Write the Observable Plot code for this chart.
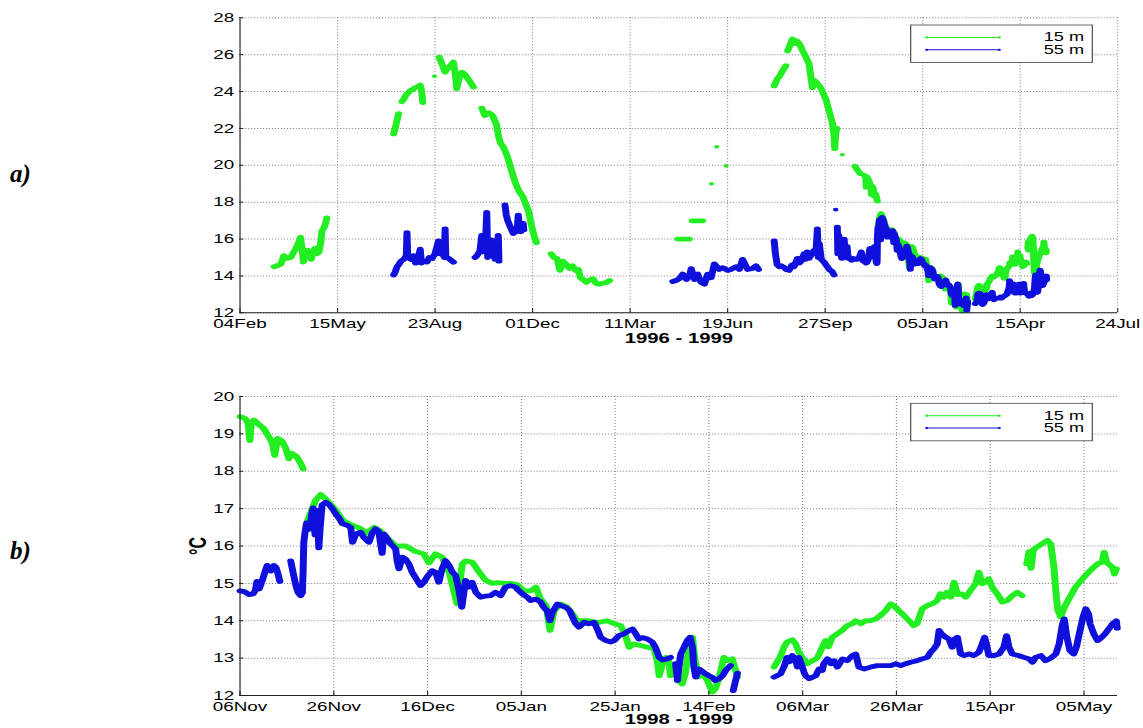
<!DOCTYPE html>
<html><head><meta charset="utf-8">
<script src="https://cdn.jsdelivr.net/npm/d3@7"></script>
<script src="https://cdn.jsdelivr.net/npm/@observablehq/plot@0.6"></script>
<style>
html,body{margin:0;padding:0;background:#fff}
body{width:1143px;height:728px;overflow:hidden;position:relative}
.panel{position:absolute;left:0}
.tag{position:absolute;font-family:"Liberation Serif","Times New Roman",serif;font-weight:bold;font-style:italic;font-size:25px;line-height:1;color:#000}
</style></head><body>
<div id="top" class="panel" style="top:0"></div>
<div id="bot" class="panel" style="top:360px"></div>
<div class="tag" style="left:10px;top:161px">a)</div>
<div class="tag" style="left:10px;top:538px">b)</div>
<script>
// ---------- labels / ticks ----------
const topXTicks = [0,100,200,300,400,500,600,700,800,900]; // days since 04 Feb 1997
const topXLabels = ["04Feb","15May","23Aug","01Dec","11Mar","19Jun","27Sep","05Jan","15Apr","24Jul"];
const topYTicks = [12,14,16,18,20,22,24,26,28];
const botXTicks = [0,20,40,60,80,100,120,140,160,180];     // days since 06 Nov 1998
const botXLabels = ["06Nov","26Nov","16Dec","05Jan","25Jan","14Feb","06Mar","26Mar","15Apr","05May"];
const botYTicks = [12,13,14,15,16,17,18,19,20];
const legendLabels = ["15 m","55 m"];
const topTitle = "1996 - 1999";
const botTitle = "1998 - 1999";
const yUnit = "°C";
const topStart = Date.UTC(1997,1,4);
const botStart = Date.UTC(1998,10,6);
const botEndDay = 187.2;

// ---------- data: panel a) only (days since 04 Feb 1997, °C) ----------
const topOnly15 = [
 [[35,14.5],[38,14.55],[42,14.65],[45,15.1],[48,14.95],[52,15.0],[55,15.3],[57,15.45],[60,15.8],[62,16.1],[64,15.3],[65,14.75],[67,15.1],[69,15.4],[71,15.1],[73,14.9],[75,15.3],[77,15.5],[79,15.2],[81,15.3],[83,15.9],[84,16.45],[86,16.6],[88,16.9],[89,17.15]],
 [[157.5,21.7],[160,22.2],[162.6,22.8]],
 [[166,23.45],[168,23.6],[170,23.8],[172,23.9],[174.5,24.05],[177,24.1],[179,24.2],[182,24.25],[184.7,24.35],[186,24.1],[187.5,23.4]],
 [[204.2,25.86],[207,25.5],[210.3,25.05],[212,25.2],[214,25.3],[216.5,25.45],[218.8,25.6],[220.5,25.0],[222.3,24.15],[224,24.6],[225.5,24.85],[227.4,25.05],[231,24.9],[235,24.6],[239.3,24.25]],
 [[248,23.1],[251,22.7],[255,22.85],[259,22.7],[263,22.2],[265,21.6],[267,21.2],[270,21.0],[274,20.5],[278,19.8],[282,19.1],[286,18.6],[290,18.3],[293,17.9],[296,17.5],[299,16.7],[302,16.1],[304,15.8]],
 [[319,15.2],[322,15.0],[325,14.95],[328,14.3],[331,14.8],[334,14.65],[338,14.4],[341,14.55],[344,14.3],[347,14.35],[349,13.9],[352,13.8],[355,13.65],[359,13.8],[362,13.85],[365,13.6],[368,13.55],[372,13.6],[376,13.65],[379,13.75]],
 [[448.9,16.0],[460.8,16.0]],
 [[463.6,16.99],[474.4,16.99]],
 [[547.7,24.3],[551,24.7],[553,24.8],[556,25.1],[559.7,25.4]],
 [[561.5,26.2],[563,26.4],[566.5,26.85],[569,26.6],[571,26.75],[574,26.55],[577,26.2],[580,25.9],[583.5,25.5],[586.9,24.2],[588.5,24.6],[591,24.5],[595.5,24.2],[598,23.9],[600.6,23.6],[604,22.95],[607.4,22.3],[609,21.7],[609.8,20.9],[610.8,21.7],[612,22.0]],
 [[630.6,19.95],[633,19.75],[636,19.55]]
];
const topOnly15Dots = [[199.4,24.83],[483.3,19.0],[488.8,21.0],[498.4,19.97],[617.6,20.57]];

const topOnly55 = [
 [[157.5,14.05],[159,14.2],[161,14.5],[162.6,14.6],[165,14.8],[168,14.9],[170.5,15.1],[171.2,16.35],[172,15.0],[175,14.9],[178,15.1],[180,14.7],[182,14.8],[184.8,15.45],[186,14.7],[189,14.8],[191.6,14.75],[194,15.0],[197,14.95],[200,15.2],[203.5,15.9],[205,15.2],[207,15.3],[209.5,15.0],[210.3,16.55],[211,15.0],[214,14.95],[218.8,14.75]],
 [[241,15.0],[243,15.1],[246,15.35],[247.9,16.2],[249.5,15.3],[251.5,15.6],[253,17.45],[254,15.0],[256,15.3],[258,15.95],[260,15.2],[261.5,14.9],[263.5,15.5],[264.8,16.2],[265.5,14.8]],
 [[271.7,17.85],[273,17.3],[274.5,17.0],[276.8,16.7],[278.5,16.5],[280.2,16.3],[282,16.5],[284,16.4],[285.3,17.3],[286.5,16.6],[288,16.4],[290.4,16.85],[291,16.5]],
 [[443.8,13.7],[447,13.75],[450.6,13.85],[454,14.1],[457.8,13.8],[461,14.0],[462.6,14.4],[466,13.8],[469.3,14.1],[472.8,13.65],[476.2,13.55],[479.6,14.1],[483,13.9],[486.4,14.65],[491.5,14.35],[494.9,14.45],[500,14.3],[503.5,14.35],[508.6,14.5],[512,14.35],[515.3,14.9],[520.5,14.35],[525.6,14.4],[529.1,14.55],[531.7,14.35]],
 [[547.7,15.9],[549,15.2],[550.8,14.6],[553,14.5],[555,14.55],[558,14.45],[560,14.35],[563,14.3],[566,14.6],[568,14.5],[571.6,14.95],[573.5,14.7],[575.4,14.8],[578.4,15.2],[580,14.9],[581.5,15.3],[583.5,14.95],[585.3,15.1],[588.7,15.4],[590.5,15.2],[592,16.55],[593,15.0],[594,15.75],[596,14.9],[598.9,14.75],[602.2,14.5],[605,14.3],[607,14.25],[609.1,14.05]],
 [[612.5,16.65],[613,15.2],[614,16.2],[615.5,15.3],[617,14.95],[618.5,15.0],[619.5,16.0],[620.5,15.1],[622.5,15.6],[623.5,14.95],[625,15.0],[627,14.85],[629,14.95],[631,14.9],[633,14.9],[635,15.0],[637,15.3],[639,14.8]]
];
const topOnly55Dots = [[610.8,17.6]];

// ---------- data: panel b) (days since 06 Nov 1998, °C) ----------
const bot15 = [
 [[0,19.46],[1,19.42],[1.7,19.3],[2.1,18.82],[2.4,19.3],[3,19.37],[4,19.25],[5,19.15],[6,18.95],[6.9,18.75],[7.4,18.42],[8,18.88],[9,18.8],[9.8,18.6],[10.4,18.33],[11,18.48],[12,18.4],[12.9,18.22],[13.5,18.06]],
 [[14.4,16.68],[15.1,16.9],[16.1,17.22],[17.2,17.38],[18.3,17.26],[19.3,17.12],[20.5,16.95],[21.8,16.7],[22.9,16.62],[24,16.55],[25.5,16.48],[27,16.35],[28.6,16.5],[30,16.4],[31.5,16.2],[33.2,16.0],[35.3,16.0],[37.5,15.85],[39.2,15.79],[40.3,15.55],[41.7,15.79],[43.1,15.7],[44.6,15.3],[45.6,14.8],[46.3,14.45],[47.4,15.52],[48.1,15.6],[49.5,15.57],[51,15.3],[52.4,15.08],[53.8,15.0],[55,15.02],[56.6,15.0],[57.7,15.0],[59.1,14.97],[60.6,14.8],[62,14.8],[63.1,14.9],[64.1,14.58],[65.3,14.4],[66.1,13.74],[67,14.27],[68.4,14.45],[69.8,14.36],[70.8,14.2],[71.9,14.0],[73.3,14.0],[74.4,14.0],[76.2,13.95],[78.3,14.0],[79.8,13.92],[81.2,13.87],[82.2,13.6],[83,13.29],[84,13.38],[85.4,13.34],[86.9,13.29],[88.3,13.25],[89,12.93],[89.4,12.53],[90.1,12.85],[90.8,13.02],[91.5,12.9],[91.8,12.53],[92.9,12.58],[93.6,12.4],[94.3,12.31],[95,12.6],[95.8,13.38],[96.5,13.56],[97.1,12.9],[97.8,12.5],[98.5,12.62],[99.7,12.4],[100.7,12.09],[101.4,12.18],[102.2,12.49],[103.2,13.02],[103.9,12.93],[105,12.98],[106.1,12.49]],
 [[113.9,12.76],[115.3,13.05],[116,13.29],[116.7,13.43],[117.8,13.49],[118.5,13.38],[119.2,13.16],[119.9,13.02],[121,12.85],[122.1,12.93],[123.1,13.0],[124.2,13.29],[124.9,13.47],[125.5,13.3],[126.3,13.56],[127.4,13.65],[128.5,13.75],[129.5,13.87],[130.6,13.92],[131.3,14.0],[132.4,13.92],[133.4,14.0],[134.5,14.0],[135.6,14.05],[136.6,14.14],[137.7,14.27],[138.8,14.45],[139.5,14.4],[140.5,14.27],[141.6,14.14],[142.7,14.0],[143.7,13.87],[144.4,13.92],[145.5,14.32],[146.6,14.41],[147.6,14.45],[148.7,14.54],[149.4,14.72],[150.1,14.63],[150.8,14.76],[151.6,14.63],[152.3,15.03],[153,14.7],[154,14.72],[154.8,14.63],[155.8,14.81],[156.9,14.99],[157.6,15.3],[158.3,14.99],[159,15.03],[159.7,15.12],[160.4,14.9],[161.5,14.72],[162.6,14.5],[163.6,14.54],[164.7,14.67],[165.8,14.76],[166.8,14.67]],
 [[167.8,15.52],[168.3,15.85],[168.7,15.4],[169.2,15.9],[170,15.97],[171.1,16.06],[172.2,16.15],[172.9,16.06],[173.6,15.43],[174,14.8],[174.4,14.3],[175,14.1],[175.8,14.36],[177,14.63],[178.2,14.9],[179.4,15.08],[180.6,15.25],[181.7,15.39],[182.9,15.52],[183.9,15.57],[184.3,15.83],[184.9,15.55],[186.1,15.43],[186.5,15.25],[186.9,15.39]]
];
const bot55 = [
 [[0,14.8],[0.9,14.78],[1.9,14.7],[2.8,14.72],[3.3,14.82],[3.6,15.05],[4.1,14.85],[4.8,15.1],[5.3,15.3],[5.8,15.48],[6.3,15.38],[6.6,15.33],[7.2,15.48],[7.7,15.42],[8,15.3],[8.5,15.05]],
 [[10.8,15.6],[11.3,15.3],[11.9,14.95],[12.4,14.75],[12.9,14.67],[13.3,14.75],[13.45,15.3],[13.6,16.1],[13.9,16.4],[14.2,16.62],[14.6,16.55],[14.9,16.45],[15.3,16.86],[15.6,17.02],[16.0,16.3],[16.4,16.95],[16.8,15.95],[17.1,16.5],[17.5,17.1],[18.3,17.17],[18.9,17.12],[19.7,17.0],[20.4,16.86],[21.1,16.75],[21.8,16.6],[22.9,16.55],[23.6,16.5],[24,16.1],[24.7,16.32],[25.7,16.37],[26.4,16.23],[27.5,16.1],[28.2,16.35],[28.9,16.46],[29.6,16.38],[30.3,15.8],[30.7,16.32],[31.4,16.2],[32.1,16.06],[33.2,15.92],[33.5,15.61],[33.9,15.39],[34.6,15.7],[35.3,15.65],[36,15.52],[36.7,15.3],[37.8,15.08],[38.5,14.94],[39.2,15.03],[39.9,15.17],[41,15.34],[41.7,15.3],[42.4,15.03],[43.1,15.39],[43.8,15.61],[44.6,15.48],[45.3,15.3],[46,15.21],[46.7,14.81],[47.3,14.36],[47.8,14.81],[48.1,15.08],[48.8,14.9],[49.5,15.03],[50.3,14.76],[51.3,14.63],[52.4,14.66],[53.4,14.67],[54.5,14.76],[55.6,14.67],[56.6,14.9],[57.7,14.94],[58.8,14.9],[59.1,14.85],[60.2,14.72],[61.3,14.63],[62,14.54],[63.1,14.58],[64.1,14.5],[64.8,14.36],[65.5,14.27],[66.1,14.0],[66.6,14.22],[67.7,14.45],[68.6,14.4],[69.5,14.36],[70.3,14.27],[70.9,14.1],[71.6,13.92],[72.3,13.83],[73.4,13.96],[74.4,13.92],[75.5,13.96],[76.2,13.78],[76.9,13.56],[78,13.47],[79.1,13.43],[79.8,13.47],[80.8,13.6],[81.9,13.65],[83,13.74],[83.7,13.78],[84.4,13.65],[85.1,13.51],[85.8,13.55],[86.9,13.51],[87.9,13.43],[88.6,13.29],[89.4,13.02],[90.1,12.95],[91.1,12.98],[91.8,13.02]],
 [[92.9,12.85],[93.3,12.4],[93.6,12.75],[94,13.11],[94.7,13.29],[95.4,13.47],[96,13.56],[96.5,13.29],[96.8,12.76],[97.2,12.49],[97.9,12.71],[98.6,12.65],[99.3,12.58],[100,12.53],[100.7,12.49],[101.4,12.4],[102.2,12.45],[102.9,12.53],[103.6,12.67],[104.3,12.76],[104.6,12.8]],
 [[105.2,12.13],[105.6,12.35],[106.1,12.6]],
 [[113.9,12.49],[115.3,12.58],[116,12.76],[116.7,13.02],[117.2,12.9],[117.8,13.07],[118.5,12.95],[118.9,12.76],[119.2,13.02],[119.7,12.85],[120.3,12.62],[120.6,12.53],[121.4,12.45],[122.1,12.49],[122.8,12.53],[123.5,12.71],[124.2,12.67],[124.5,12.85],[125.3,12.98],[126,12.85],[126.7,12.93],[127.4,12.76],[128.5,12.98],[129.5,12.93],[130.6,13.07],[131.3,13.11],[132,12.76],[133.1,12.71],[134.5,12.76],[135.9,12.8],[137.3,12.8],[138.8,12.8],[139.8,12.85],[140.9,12.8],[142,12.85],[143,12.89],[144.4,12.93],[145.5,12.98],[146.6,13.02],[147.3,13.16],[148,13.25],[148.7,13.38],[149.1,13.74],[149.6,13.65],[150.5,13.56],[151.2,13.51],[151.9,13.29],[152.3,13.5],[153,13.56],[153.7,13.11],[154.4,13.07],[155.5,13.11],[156.5,13.07],[157.6,13.16],[158.3,13.38],[158.8,13.56],[159.2,13.38],[159.7,13.07],[160.8,13.07],[161.9,13.11],[162.9,13.29],[163.5,13.6],[164,13.3],[164.7,13.11],[166,13.07],[167.2,13.02],[168.3,12.98],[169,12.89],[169.7,13.02],[170.8,13.07],[171.8,12.93],[172.9,13.0],[174,13.11],[174.7,13.38],[175.4,13.9],[175.8,14.05],[176.3,13.6],[177,13.2],[177.8,13.11],[178.4,13.3],[179,13.65],[179.8,14.1],[180.4,14.32],[181,14.18],[181.3,13.92],[182.1,13.65],[182.9,13.47],[183.7,13.55],[184.5,13.65],[185.3,13.78],[186.1,13.92],[186.9,14.0],[187.1,13.8]]
];

// ---------- layout ----------
const S = 1.45;                 // the original figure is stretched horizontally
const X0 = 239.3, X1 = 1117;    // page x of axis start / end
const W = 1143 / S;
const GREEN = "#22ee22", BLUE = "#1010dc", AXIS = "#222";

const toRows = (segs, shift, tag) =>
  segs.flatMap((seg, k) => seg.map(([d, t]) => ({day: d + shift, t, seg: tag + k})));
const shift = (botStart - topStart) / 864e5;

function panel(o) {
  const lab = new Map(o.ticksX.map((t, i) => [t, o.labelsX[i]]));
  const pxX = (X1 - X0) / (o.domX[1] - o.domX[0]);
  const pxY = (o.yBot - o.yTop) / (o.domY[1] - o.domY[0]);
  const tX = 4 / pxX, tY = 4 / pxY;
  const marks = [
    Plot.gridX(o.ticksX, {stroke: "#7c7c7c", strokeOpacity: 1, strokeWidth: 0.7, strokeDasharray: "1,2"}),
    Plot.gridY(o.ticksY, {stroke: "#7c7c7c", strokeOpacity: 1, strokeWidth: 1, strokeDasharray: "0.7,1.35"}),
    Plot.line(o.rows15, {x: "day", y: "t", z: "seg", stroke: GREEN, strokeWidth: 4.8, strokeLinecap: "round", strokeLinejoin: "round"}),
    Plot.dot(o.dots15, {x: d => d[0], y: d => d[1], r: 1.8, fill: GREEN, strokeWidth: 0}),
    Plot.line(o.rows55, {x: "day", y: "t", z: "seg", stroke: BLUE, strokeWidth: 4.8, strokeLinecap: "round", strokeLinejoin: "round"}),
    Plot.dot(o.dots55, {x: d => d[0], y: d => d[1], r: 1.9, fill: BLUE, strokeWidth: 0}),
    Plot.ruleX([o.domX[0]], {stroke: AXIS, strokeWidth: 0.75}),
    Plot.ruleY([o.domY[0]], {stroke: AXIS, strokeWidth: 1}),
    Plot.ruleX(o.ticksX, {x: d => d, y1: o.domY[0], y2: o.domY[0] + tY, stroke: AXIS, strokeWidth: 0.75}),
    Plot.ruleY(o.ticksY, {y: d => d, x1: o.domX[0], x2: o.domX[0] + tX, stroke: AXIS, strokeWidth: 1}),
    Plot.axisX(o.ticksX, {tickSize: 0, tickPadding: 6, tickFormat: d => lab.get(d), label: null}),
    Plot.axisY(o.ticksY, {tickSize: 0, tickPadding: 4, label: null}),
    Plot.text([o.title], {text: d => d, frameAnchor: "bottom", lineAnchor: "top", dy: o.titleDy, fontWeight: "bold", fontSize: 14, fill: "#000"})
  ];
  if (o.unit) marks.push(Plot.text([o.unit], {text: d => d, frameAnchor: "left", textAnchor: "middle", lineAnchor: "middle", rotate: -90, dx: (197.5 - X0) / S, fontSize: 16, fontWeight: "bold", fill: "#000"}));
  const svg = Plot.plot({
    width: W, height: o.h,
    marginLeft: X0 / S, marginRight: W - X1 / S, marginTop: o.yTop, marginBottom: o.h - o.yBot,
    x: {domain: o.domX, range: [X0 / S, X1 / S]},
    y: {domain: o.domY, range: [o.yBot, o.yTop]},
    style: {fontFamily: "'Liberation Sans', Arial, sans-serif", fontSize: "13px", color: "#000", background: "transparent", overflow: "visible"},
    marks
  });
  // legend
  const g = d3.select(svg).append("g");
  const T = o.legendTop, L = 910.7 / S, R = 1092.3 / S;
  g.append("rect").attr("x", L).attr("y", T).attr("width", R - L).attr("height", 37.5)
    .attr("fill", "#fff").attr("stroke", "#444").attr("stroke-width", 0.8);
  [GREEN, BLUE].forEach((c, i) => {
    const y = T + 12.4 + i * 12.4;
    g.append("line").attr("x1", 926.7 / S).attr("x2", 999.3 / S).attr("y1", y).attr("y2", y)
      .attr("stroke", c).attr("stroke-width", 1);
    [926.7, 999.3].forEach(x => g.append("circle").attr("cx", x / S).attr("cy", y).attr("r", 1.1).attr("fill", c));
    g.append("text").attr("x", 1084 / S).attr("y", T + 16.4 + i * 12.6).attr("text-anchor", "end")
      .attr("fill", "#000").style("font-size", "12.5px").text(legendLabels[i]);
  });
  svg.setAttribute("width", 1143);
  svg.setAttribute("height", o.h);
  svg.setAttribute("preserveAspectRatio", "none");
  svg.style.width = "1143px"; svg.style.height = o.h + "px"; svg.style.maxWidth = "none"; svg.style.display = "block";
  document.getElementById(o.el).appendChild(svg);
}

panel({
  el: "top", h: 355, yTop: 17.3, yBot: 312.3,
  domX: [0, 900], ticksX: topXTicks, labelsX: topXLabels, domY: [12, 28], ticksY: topYTicks,
  rows15: [...toRows(topOnly15, 0, "a"), ...toRows(bot15, shift, "b")],
  rows55: [...toRows(topOnly55, 0, "a"), ...toRows(bot55, shift, "b")],
  dots15: topOnly15Dots, dots55: topOnly55Dots,
  title: topTitle, titleDy: 20.7, legendTop: 25
});
panel({
  el: "bot", h: 368, yTop: 36, yBot: 335,
  domX: [0, botEndDay], ticksX: botXTicks, labelsX: botXLabels, domY: [12, 20], ticksY: botYTicks,
  rows15: toRows(bot15, 0, "b"), rows55: toRows(bot55, 0, "b"),
  dots15: [], dots55: [],
  title: botTitle, titleDy: 18.8, unit: yUnit, legendTop: 43.3
});
</script></body></html>
